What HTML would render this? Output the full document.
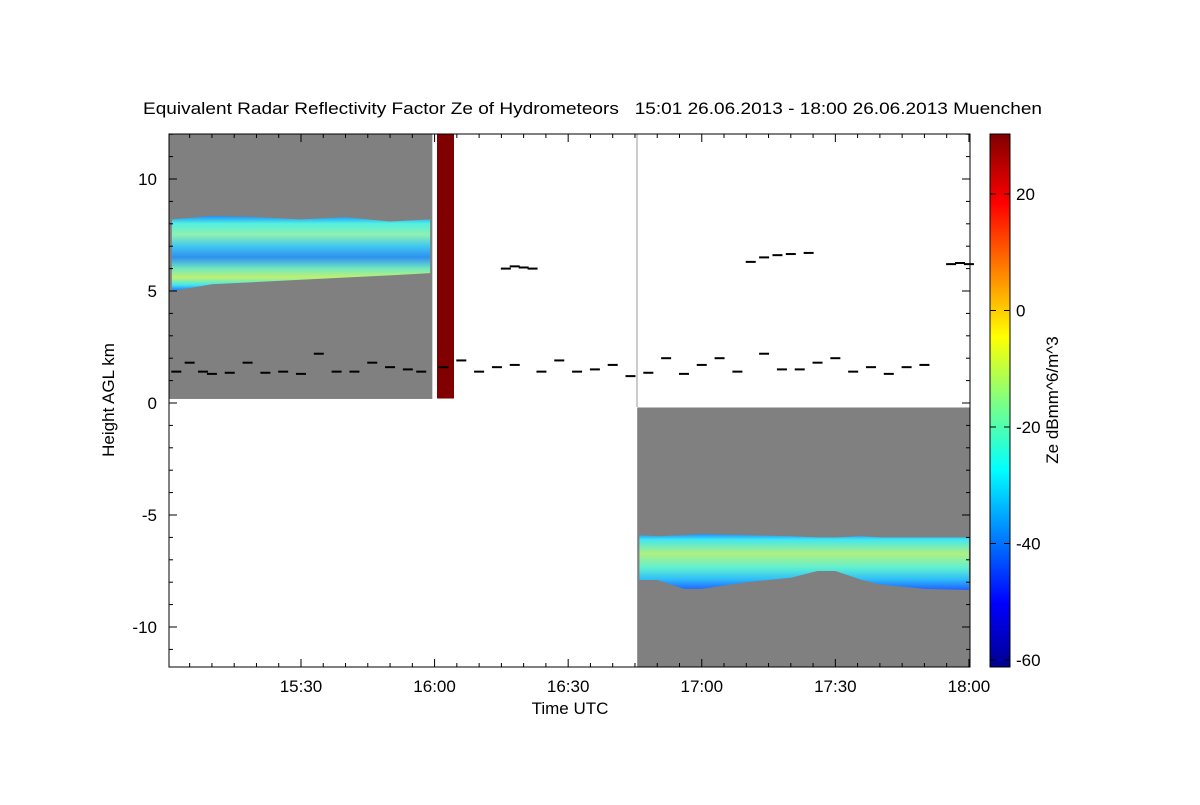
<!DOCTYPE html>
<html><head><meta charset="utf-8"><style>
body{margin:0;background:#fff;}
svg text{font-family:"Liberation Sans",sans-serif;fill:#000;white-space:pre;}
</style></head><body>
<svg id="c" width="1200" height="800" xmlns="http://www.w3.org/2000/svg">
<defs>
<linearGradient id="cb" x1="0" y1="1" x2="0" y2="0">
<stop offset="0" stop-color="#00008f"/><stop offset="0.12" stop-color="#0000ff"/><stop offset="0.37" stop-color="#00ffff"/><stop offset="0.5" stop-color="#80ff80"/><stop offset="0.62" stop-color="#ffff00"/><stop offset="0.87" stop-color="#ff0000"/><stop offset="1" stop-color="#800000"/>
</linearGradient>
<linearGradient id="bandU" x1="0" y1="0" x2="0" y2="1">
<stop offset="0" stop-color="#2090ff"/><stop offset="0.1" stop-color="#50f0e0"/><stop offset="0.25" stop-color="#90f0b0"/><stop offset="0.4" stop-color="#40c8f0"/><stop offset="0.55" stop-color="#3090f0"/><stop offset="0.7" stop-color="#70e8c0"/><stop offset="0.82" stop-color="#c0f070"/><stop offset="0.92" stop-color="#40e8f0"/><stop offset="1" stop-color="#2070ff"/>
</linearGradient>
<linearGradient id="bandL" x1="0" y1="0" x2="0" y2="1">
<stop offset="0" stop-color="#2090ff"/><stop offset="0.1" stop-color="#40e8f0"/><stop offset="0.35" stop-color="#b0f080"/><stop offset="0.6" stop-color="#60f0d0"/><stop offset="0.8" stop-color="#30c0f8"/><stop offset="1" stop-color="#2060ff"/>
</linearGradient>
</defs>
<g id="plot"></g>
<text x="143" y="114" font-size="17" textLength="899" lengthAdjust="spacingAndGlyphs">Equivalent Radar Reflectivity Factor Ze of Hydrometeors   15:01 26.06.2013 - 18:00 26.06.2013 Muenchen</text>
<text x="570" y="714" font-size="17" text-anchor="middle">Time UTC</text>
<text transform="translate(114,400) rotate(-90)" font-size="17" text-anchor="middle">Height AGL km</text>
<text transform="translate(1058,400) rotate(-90)" font-size="17" text-anchor="middle">Ze dBmm^6/m^3</text>
</svg>
<script>
const xTicks=["15:30","16:00","16:30","17:00","17:30","18:00"];
const xTickMin=[30,60,90,120,150,180];
const yTicks=[10,5,0,-5,-10];
const cbTicks=[20,0,-20,-40,-60];
const uT=[1,10,20,30,40,50,59];
const uTop=[8.2,8.35,8.3,8.2,8.3,8.1,8.2];
const uBot=[5.0,5.3,5.4,5.5,5.6,5.7,5.8];
const lT=[106,110,116,120,130,140,146,150,156,160,170,180];
const lTop=[-5.9,-5.95,-5.9,-5.85,-5.9,-5.95,-6.0,-6.0,-5.95,-6.0,-6.0,-6.0];
const lBot=[-7.9,-7.9,-8.3,-8.3,-8.0,-7.8,-7.5,-7.5,-7.9,-8.1,-8.3,-8.35];
const dotT=[2,5,8,10,14,18,22,26,30,34,38,42,46,50,54,57,62,66,70,74,78,84,88,92,96,100,104,108,112,116,120,124,128,134,138,142,146,150,154,158,162,166,170];
const dotH=[1.4,1.8,1.4,1.3,1.35,1.8,1.35,1.4,1.3,2.2,1.4,1.4,1.8,1.6,1.5,1.4,1.6,1.9,1.4,1.6,1.7,1.4,1.9,1.4,1.5,1.7,1.2,1.35,2.0,1.3,1.7,2.0,1.4,2.2,1.5,1.5,1.8,2.0,1.4,1.6,1.3,1.6,1.7];
const hiT=[76,78,80,82,131,134,137,140,144,176,178,180];
const hiH=[6.0,6.1,6.05,6.0,6.3,6.5,6.6,6.65,6.7,6.2,6.25,6.2];
const NS='http://www.w3.org/2000/svg';
const xOf=m=>167.4+m*4.453;
const yOf=h=>403-h*22.4;
const cbY=v=>660-(v+60)*5.825;
const g=document.getElementById('plot');
function mk(t,a,parent){const e=document.createElementNS(NS,t);for(const k in a)e.setAttribute(k,a[k]);(parent||g).appendChild(e);return e;}
let e;
e=mk('rect',{x:169,y:134,width:801,height:533,fill:'#fff'});

e=mk('rect',{x:169,y:134,width:xOf(59.5)-169,height:yOf(0.18)-134,fill:'#808080'});

e=mk('rect',{x:xOf(105.5),y:yOf(-0.2),width:970-xOf(105.5),height:667-yOf(-0.2),fill:'#808080'});

function band(T,top,bot,fill,name){let p=T.map((t,i)=>xOf(t)+','+yOf(top[i]));for(let i=T.length-1;i>=0;i--)p.push(xOf(T[i])+','+yOf(bot[i]));const b=mk('polygon',{points:p.join(' '),fill:fill});}
band(uT,uTop,uBot,'url(#bandU)','upper-cloud-band');
band(lT,lTop,lBot,'url(#bandL)','lower-cloud-band');
e=mk('rect',{x:437,y:134,width:17,height:yOf(0.2)-134,fill:'#800000'});

e=mk('line',{x1:637,y1:134,x2:637,y2:407,stroke:'#999','stroke-width':1});

dotT.forEach((t,i)=>{const d=mk('rect',{x:xOf(t)-5,y:yOf(dotH[i])-1,width:10,height:2,fill:'#000'});

});
hiT.forEach((t,i)=>{const d=mk('rect',{x:xOf(t)-5,y:yOf(hiH[i])-1,width:10,height:2,fill:'#000'});

});
e=mk('rect',{x:169,y:134,width:801,height:533,fill:'none',stroke:'#000','stroke-width':1});

for(let m=5;m<=180;m+=5){const x=xOf(m);const L=(m%30==0)?8:4;mk('line',{x1:x,y1:667,x2:x,y2:667-L,stroke:'#000'});mk('line',{x1:x,y1:134,x2:x,y2:134+L,stroke:'#000'});}
xTicks.forEach((s,i)=>{const t=mk('text',{x:xOf(xTickMin[i]),y:692,'font-size':17,'text-anchor':'middle'});t.textContent=s;

});
for(let h=-11;h<=12;h++){const y=yOf(h);const L=(h%5==0)?8:4;mk('line',{x1:169,y1:y,x2:169+L,y2:y,stroke:'#000'});mk('line',{x1:970,y1:y,x2:970-L,y2:y,stroke:'#000'});}
yTicks.forEach(v=>{const t=mk('text',{x:157,y:yOf(v)+6,'font-size':17,'text-anchor':'end'});t.textContent=v;

});
e=mk('rect',{x:990,y:134,width:20,height:533,fill:'url(#cb)',stroke:'#000'});

cbTicks.forEach(v=>{mk('line',{x1:1010,y1:cbY(v),x2:1004,y2:cbY(v),stroke:'#000'});mk('line',{x1:990,y1:cbY(v),x2:996,y2:cbY(v),stroke:'#000'});const t=mk('text',{x:1016,y:cbY(v)+6,'font-size':17});t.textContent=v;

});
</script>
</body></html>
